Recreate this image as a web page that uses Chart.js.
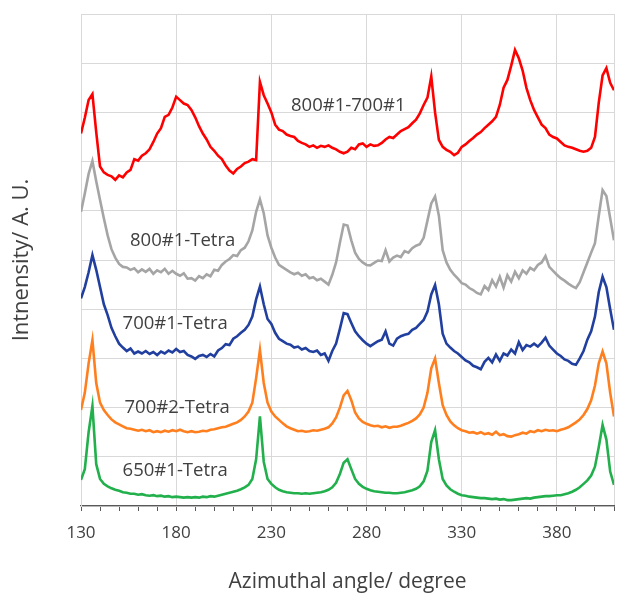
<!DOCTYPE html>
<html>
<head>
<meta charset="utf-8">
<script src="https://cdn.jsdelivr.net/npm/chart.js@4.4.1/dist/chart.umd.min.js"></script>
<style>
  html, body { margin: 0; padding: 0; background: #ffffff; }
  #wrap { width: 617px; height: 593px; position: relative; }
</style>
</head>
<body>
<div id="wrap"><canvas id="chart" width="617" height="593"></canvas></div>
<script>
// azimuthal angle (degree), shared by all series
const angles = [
  130, 132, 134, 136, 138, 140, 142, 144, 146, 148,
  150, 152, 154, 156, 158, 160, 162, 164, 166, 168,
  170, 172, 174, 176, 178, 180, 182, 184, 186, 188,
  190, 192, 194, 196, 198, 200, 202, 204, 206, 208,
  210, 212, 214, 216, 218, 220, 222, 224, 226, 228,
  230, 232, 234, 236, 238, 240, 242, 244, 246, 248,
  250, 252, 254, 256, 258, 260, 262, 264, 266, 268,
  270, 272, 274, 276, 278, 280, 282, 284, 286, 288,
  290, 292, 294, 296, 298, 300, 302, 304, 306, 308,
  310, 312, 314, 316, 318, 320, 322, 324, 326, 328,
  330, 332, 334, 336, 338, 340, 342, 344, 346, 348,
  350, 352, 354, 356, 358, 360, 362, 364, 366, 368,
  370, 372, 374, 376, 378, 380, 382, 384, 386, 388,
  390, 392, 394, 396, 398, 400, 402, 404, 406, 408, 410
];

// intensities (offset for stacking, A. U.)
const tetra650_1 = [
  0.53, 0.75, 1.50, 2.03, 0.85, 0.55, 0.45, 0.40, 0.36, 0.33,
  0.31, 0.28, 0.27, 0.25, 0.25, 0.23, 0.24, 0.22, 0.21, 0.22,
  0.20, 0.21, 0.19, 0.20, 0.18, 0.19, 0.18, 0.17, 0.18, 0.17,
  0.18, 0.17, 0.19, 0.18, 0.20, 0.19, 0.21, 0.23, 0.25, 0.27,
  0.29, 0.31, 0.34, 0.38, 0.43, 0.55, 0.95, 1.82, 0.90, 0.55,
  0.45, 0.38, 0.33, 0.30, 0.28, 0.27, 0.26, 0.26, 0.25, 0.26,
  0.25, 0.26, 0.27, 0.28, 0.30, 0.33, 0.38, 0.47, 0.65, 0.88,
  0.95, 0.75, 0.55, 0.45, 0.39, 0.35, 0.32, 0.30, 0.29, 0.28,
  0.27, 0.27, 0.26, 0.26, 0.27, 0.28, 0.30, 0.32, 0.35, 0.40,
  0.50, 0.72, 1.30, 1.54, 0.95, 0.55, 0.42, 0.34, 0.29, 0.25,
  0.22, 0.21, 0.19, 0.18, 0.17, 0.16, 0.16, 0.15, 0.14, 0.15,
  0.13, 0.14, 0.12, 0.12, 0.13, 0.14, 0.15, 0.16, 0.15, 0.17,
  0.18, 0.19, 0.20, 0.20, 0.21, 0.22, 0.22, 0.24, 0.26, 0.29,
  0.33, 0.38, 0.45, 0.52, 0.62, 0.80, 1.20, 1.65, 1.35, 0.70, 0.43
];
const tetra700_2 = [
  1.95, 2.30, 2.90, 3.37, 2.50, 2.10, 1.95, 1.85, 1.76, 1.70,
  1.66, 1.62, 1.58, 1.57, 1.55, 1.53, 1.55, 1.52, 1.54, 1.50,
  1.52, 1.50, 1.53, 1.51, 1.54, 1.52, 1.55, 1.52, 1.50, 1.52,
  1.50, 1.51, 1.53, 1.52, 1.55, 1.56, 1.58, 1.60, 1.61, 1.64,
  1.67, 1.70, 1.75, 1.82, 1.92, 2.10, 2.60, 3.17, 2.50, 2.10,
  1.92, 1.82, 1.75, 1.68, 1.62, 1.58, 1.55, 1.52, 1.53, 1.51,
  1.52, 1.54, 1.53, 1.55, 1.57, 1.60, 1.68, 1.80, 2.00, 2.25,
  2.34, 2.15, 1.90, 1.78, 1.71, 1.67, 1.64, 1.62, 1.63, 1.60,
  1.62, 1.59, 1.61, 1.61, 1.63, 1.66, 1.69, 1.73, 1.78, 1.86,
  2.00, 2.30, 2.80, 3.00, 2.50, 2.05, 1.85, 1.72, 1.64, 1.58,
  1.54, 1.52, 1.49, 1.50, 1.47, 1.50, 1.46, 1.48, 1.45, 1.51,
  1.44, 1.46, 1.42, 1.41, 1.44, 1.46, 1.49, 1.47, 1.52, 1.50,
  1.54, 1.52, 1.55, 1.53, 1.54, 1.52, 1.55, 1.57, 1.60, 1.65,
  1.70, 1.76, 1.85, 1.97, 2.15, 2.45, 2.90, 3.14, 2.90, 2.30, 1.82
];
const tetra700_1 = [
  4.22, 4.45, 4.75, 5.10, 4.80, 4.45, 4.10, 3.88, 3.62, 3.45,
  3.30, 3.22, 3.15, 3.20, 3.10, 3.14, 3.10, 3.15, 3.09, 3.13,
  3.07, 3.14, 3.10, 3.16, 3.12, 3.19, 3.13, 3.15, 3.07, 3.04,
  2.99, 3.05, 3.07, 3.03, 3.09, 3.04, 3.16, 3.21, 3.29, 3.27,
  3.40, 3.45, 3.52, 3.58, 3.68, 3.85, 4.20, 4.46, 4.10, 3.80,
  3.70, 3.52, 3.40, 3.35, 3.30, 3.28, 3.22, 3.24, 3.18, 3.21,
  3.15, 3.13, 3.16, 3.07, 3.10, 2.95, 3.15, 3.30, 3.60, 3.92,
  3.90, 3.72, 3.55, 3.45, 3.37, 3.30, 3.25, 3.30, 3.35, 3.38,
  3.55, 3.30, 3.26, 3.40, 3.45, 3.48, 3.50, 3.58, 3.62, 3.70,
  3.78, 3.95, 4.30, 4.49, 4.10, 3.50, 3.30, 3.22, 3.15, 3.10,
  3.03, 2.96, 2.92, 2.85, 2.82, 2.78, 2.93, 3.01, 2.92, 3.08,
  2.95, 3.10, 3.06, 3.18, 3.10, 3.33, 3.17, 3.27, 3.24, 3.30,
  3.24, 3.32, 3.42, 3.26, 3.18, 3.10, 3.05, 2.98, 2.95, 2.89,
  2.87, 3.00, 3.15, 3.38, 3.55, 3.85, 4.35, 4.66, 4.45, 4.00, 3.58
];
const tetra800_1 = [
  5.98, 6.35, 6.75, 7.01, 6.60, 6.22, 5.85, 5.50, 5.22, 5.05,
  4.92, 4.86, 4.85, 4.80, 4.83, 4.75, 4.81, 4.76, 4.82, 4.72,
  4.79, 4.75, 4.82, 4.72, 4.78, 4.72, 4.68, 4.73, 4.62, 4.63,
  4.58, 4.67, 4.63, 4.71, 4.67, 4.80, 4.78, 4.90, 4.97, 5.02,
  5.10, 5.08, 5.20, 5.25, 5.38, 5.60, 5.98, 6.23, 5.95, 5.50,
  5.25, 5.05, 4.90, 4.85, 4.80, 4.75, 4.71, 4.74, 4.68, 4.71,
  4.63, 4.65, 4.59, 4.62, 4.56, 4.50, 4.70, 4.95, 5.35, 5.72,
  5.70, 5.40, 5.15, 5.02, 4.95, 4.90, 4.89, 4.94, 4.99, 4.98,
  5.20, 4.97, 5.05, 5.09, 5.06, 5.18, 5.15, 5.24, 5.29, 5.32,
  5.45, 5.80, 6.15, 6.29, 5.90, 5.20, 4.95, 4.80, 4.70, 4.62,
  4.53, 4.50, 4.43, 4.39, 4.33, 4.30, 4.47, 4.39, 4.59, 4.46,
  4.66, 4.44, 4.69, 4.56, 4.76, 4.63, 4.79, 4.72, 4.84, 4.79,
  4.90, 4.95, 5.08, 4.86, 4.78, 4.70, 4.63, 4.58, 4.52, 4.47,
  4.43, 4.55, 4.75, 4.95, 5.15, 5.34, 5.90, 6.42, 6.30, 5.85, 5.40
];
const diff800_700 = [
  7.57, 7.89, 8.25, 8.37, 7.60, 6.90, 6.78, 6.73, 6.70, 6.63,
  6.72, 6.68, 6.78, 6.83, 7.05, 7.02, 7.12, 7.17, 7.25, 7.40,
  7.57, 7.68, 7.91, 7.95, 8.10, 8.32, 8.25, 8.18, 8.15, 8.05,
  7.90, 7.72, 7.57, 7.45, 7.30, 7.22, 7.12, 7.05, 6.92, 6.82,
  6.76, 6.85, 6.90, 6.97, 7.00, 7.05, 7.03, 8.62, 8.35, 8.18,
  8.00, 7.75, 7.65, 7.62, 7.55, 7.52, 7.50, 7.42, 7.38, 7.35,
  7.30, 7.33, 7.28, 7.32, 7.30, 7.33, 7.28, 7.25, 7.20, 7.17,
  7.20, 7.28, 7.25, 7.35, 7.37, 7.30, 7.35, 7.32, 7.33, 7.38,
  7.45, 7.50, 7.48, 7.55, 7.62, 7.66, 7.70, 7.78, 7.85, 7.98,
  8.15, 8.30, 8.73, 8.00, 7.44, 7.30, 7.24, 7.20, 7.13, 7.18,
  7.30, 7.35, 7.42, 7.48, 7.55, 7.60, 7.68, 7.75, 7.82, 7.91,
  8.15, 8.50, 8.66, 8.95, 9.27, 9.10, 8.85, 8.50, 8.25, 8.05,
  7.90, 7.75, 7.68, 7.55, 7.50, 7.47, 7.40, 7.33, 7.30, 7.28,
  7.25, 7.22, 7.20, 7.22, 7.28, 7.50, 8.20, 8.75, 8.90, 8.60, 8.45
];

const seriesNames = ["650#1-Tetra", "700#2-Tetra", "700#1-Tetra", "800#1-Tetra", "800#1-700#1"];
const seriesColors = ["#21b04b", "#ff7f1f", "#213f9e", "#a5a5a5", "#ff0000"];
const seriesValues = [tetra650_1, tetra700_2, tetra700_1, tetra800_1, diff800_700];

// where each curve label sits, in data units (angle, intensity)
const labelAngles = [179.5, 180.5, 179.5, 183.4, 270.4];
const labelLevels = [0.71, 2.0, 3.71, 5.4, 8.13];

const xTickMin = 130;
const xTickMax = 410;
const xMajorStep = 50;
const xMinorStep = 10;

const textColor = "#404040";
const gridColor = "#d9d9d9";
const fontFamily = "'Open Sans', 'DejaVu Sans', sans-serif";

// draws the curve names next to their curves
const curveLabels = {
    id: "curveLabels",
    afterDatasetsDraw(chart) {
        const { ctx, scales } = chart;
        ctx.save();
        ctx.fillStyle = textColor;
        ctx.font = "18.5px " + fontFamily;
        ctx.textAlign = "center";
        ctx.textBaseline = "middle";
        seriesNames.forEach((name, i) => {
            const px = scales.x.getPixelForValue(labelAngles[i]);
            const py = scales.y.getPixelForValue(labelLevels[i]);
            ctx.fillText(name, px, py);
        });
        ctx.restore();
    }
};

const isMajor = (v) => (v - xTickMin) % xMajorStep === 0;

const datasets = seriesNames.map((name, i) => ({
    label: name,
    data: angles.map((a, j) => ({ x: a, y: seriesValues[i][j] })),
    borderColor: seriesColors[i],
    borderWidth: 2.6,
    pointRadius: 0,
    tension: 0,
    fill: false
}));

const ctx = document.getElementById("chart").getContext("2d");
new Chart(ctx, {
    type: "line",
    data: { datasets: datasets },
    plugins: [curveLabels],
    options: {
        responsive: false,
        animation: false,
        layout: { padding: { top: 14, right: 3, left: 0, bottom: 0 } },
        plugins: {
            legend: { display: false },
            tooltip: { enabled: false }
        },
        scales: {
            x: {
                type: "linear",
                min: xTickMin,
                max: xTickMax,
                afterFit(scale) {
                    scale.height = 87;
                    scale.paddingLeft = 0;
                    scale.paddingRight = 0;
                },
                border: { color: "#595959", width: 1.3 },
                grid: {
                    color: (c) => (c.tick && (isMajor(c.tick.value) || c.tick.value === xTickMax)) ? gridColor : "rgba(0,0,0,0)",
                    tickColor: "#595959",
                    tickLength: 5,
                    lineWidth: 1
                },
                ticks: {
                    stepSize: xMinorStep,
                    autoSkip: false,
                    maxRotation: 0,
                    padding: 12,
                    color: textColor,
                    font: { family: fontFamily, size: 17 },
                    callback: (v) => isMajor(v) && v !== xTickMax ? String(v) : ""
                },
                title: {
                    display: true,
                    text: "Azimuthal angle/ degree",
                    color: textColor,
                    font: { family: fontFamily, size: 21, lineHeight: 1.0 },
                    padding: { top: 0, bottom: 0 }
                }
            },
            y: {
                min: 0,
                max: 10,
                afterFit(scale) { scale.width = 81; },
                border: { color: gridColor },
                grid: { color: gridColor, drawTicks: false },
                ticks: { display: false, stepSize: 1 },
                title: {
                    display: true,
                    text: "Intnensity/ A. U.",
                    color: textColor,
                    font: { family: fontFamily, size: 22 },
                    padding: { top: 9, bottom: 0 }
                }
            }
        }
    }
});
</script>
</body>
</html>
